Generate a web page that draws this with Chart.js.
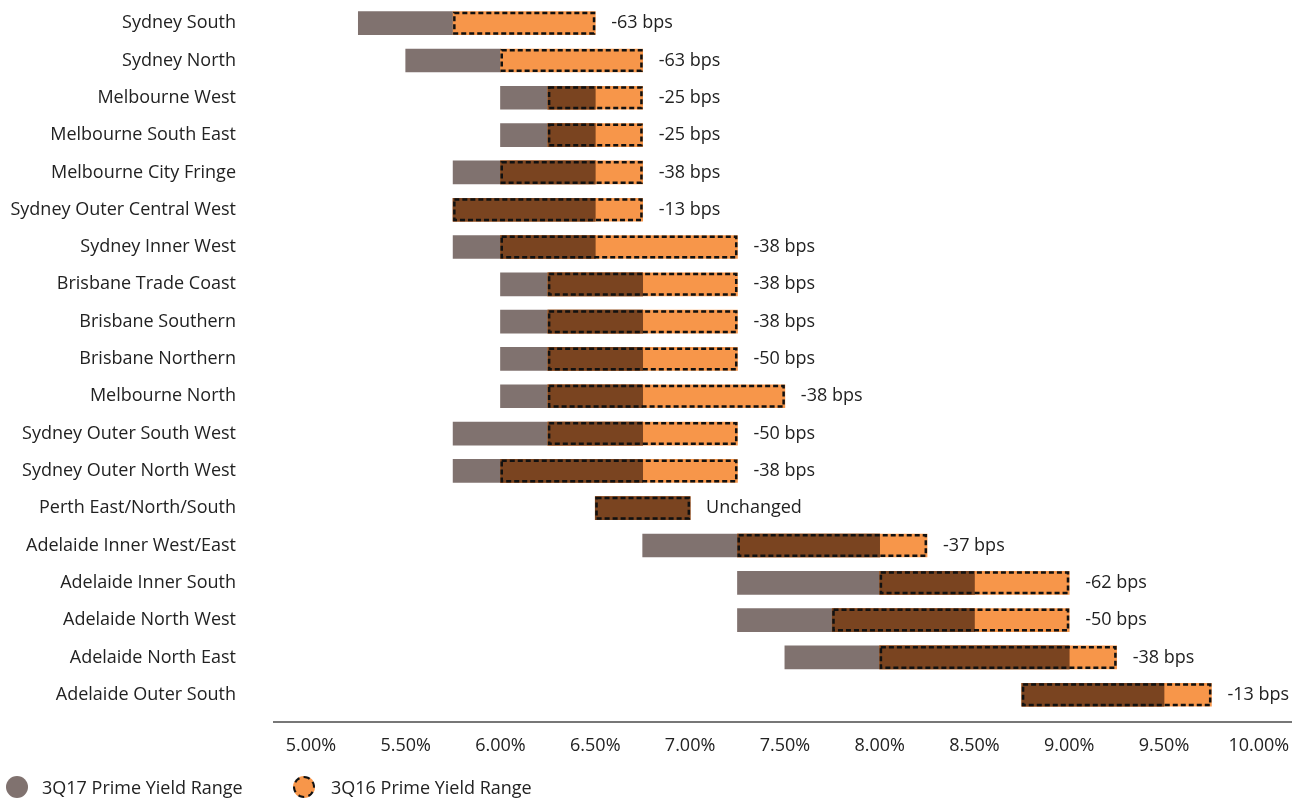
<!DOCTYPE html>
<html>
<head>
<meta charset="utf-8">
<title>Prime Yield Ranges</title>
<script src="https://cdn.jsdelivr.net/npm/chart.js@4.4.1/dist/chart.umd.min.js"></script>
<style>
  body { margin: 0; background: #fff; font-family: "Open Sans", sans-serif; color: #222; }
  #wrap { position: relative; width: 1300px; height: 800px; }
  .key { position: absolute; top: 776px; height: 22px; display: flex; align-items: center; font-size: 18px; white-space: nowrap; }
  .dot { width: 22px; height: 22px; border-radius: 50%; box-sizing: border-box; margin-right: 14px; flex: none; }
  .dot.q17 { background: #80726f; }
  .dot.q16 { background: #f7964a; border: 2.5px dashed #111; margin-right: 16px; }
</style>
</head>
<body>
<div id="wrap">
  <canvas id="yieldChart" width="1300" height="800"></canvas>
  <div class="key" style="left:6px"><span class="dot q17"></span>3Q17 Prime Yield Range</div>
  <div class="key" style="left:293px"><span class="dot q16"></span>3Q16 Prime Yield Range</div>
</div>
<script>
// Markets, top to bottom
const markets = [
  "Sydney South", "Sydney North", "Melbourne West", "Melbourne South East",
  "Melbourne City Fringe", "Sydney Outer Central West", "Sydney Inner West",
  "Brisbane Trade Coast", "Brisbane Southern", "Brisbane Northern",
  "Melbourne North", "Sydney Outer South West", "Sydney Outer North West",
  "Perth East/North/South", "Adelaide Inner West/East", "Adelaide Inner South",
  "Adelaide North West", "Adelaide North East", "Adelaide Outer South"
];

// Prime yield ranges [low, high] in %
const range3Q17 = [
  [5.25, 5.75], [5.5, 6.0], [6.0, 6.5], [6.0, 6.5],
  [5.75, 6.5], [5.75, 6.5], [5.75, 6.5],
  [6.0, 6.75], [6.0, 6.75], [6.0, 6.75],
  [6.0, 6.75], [5.75, 6.75], [5.75, 6.75],
  [6.5, 7.0], [6.75, 8.0], [7.25, 8.5],
  [7.25, 8.5], [7.5, 9.0], [8.75, 9.5]
];
const range3Q16 = [
  [5.75, 6.5], [6.0, 6.75], [6.25, 6.75], [6.25, 6.75],
  [6.0, 6.75], [5.75, 6.75], [6.0, 7.25],
  [6.25, 7.25], [6.25, 7.25], [6.25, 7.25],
  [6.25, 7.5], [6.25, 7.25], [6.0, 7.25],
  [6.5, 7.0], [7.25, 8.25], [8.0, 9.0],
  [7.75, 9.0], [8.0, 9.25], [8.75, 9.75]
];

// Year-on-year change labels
const changeLabels = [
  "-63 bps", "-63 bps", "-25 bps", "-25 bps", "-38 bps", "-13 bps", "-38 bps",
  "-38 bps", "-38 bps", "-50 bps", "-38 bps", "-50 bps", "-38 bps",
  "Unchanged", "-37 bps", "-62 bps", "-50 bps", "-38 bps", "-13 bps"
];

const xTicks = [5.0, 5.5, 6.0, 6.5, 7.0, 7.5, 8.0, 8.5, 9.0, 9.5, 10.0];

// part of the range shared by both years
const overlap = range3Q17.map((r, i) => {
  const lo = Math.max(r[0], range3Q16[i][0]);
  const hi = Math.min(r[1], range3Q16[i][1]);
  return hi > lo ? [lo, hi] : null;
});

const FONT = "'Open Sans', sans-serif";

// dashed outline around the 3Q16 bars
const dashedOutline = {
  id: "dashedOutline",
  afterDatasetsDraw(chart) {
    const ctx = chart.ctx;
    const meta = chart.getDatasetMeta(1);
    ctx.save();
    ctx.strokeStyle = "#111";
    ctx.lineWidth = 2.5;
    ctx.setLineDash([5, 3]);
    meta.data.forEach(bar => {
      const { x, y, base, height } = bar.getProps(["x", "y", "base", "height"], true);
      const left = Math.min(x, base), right = Math.max(x, base);
      ctx.strokeRect(left + 1.25, y - height / 2 + 1.25, right - left - 2.5, height - 2.5);
    });
    ctx.restore();
  }
};

// change text to the right of each row, plus the axis line
const rowLabels = {
  id: "rowLabels",
  afterDraw(chart) {
    const { ctx, chartArea } = chart;
    const xs = chart.scales.x, ys = chart.scales.y;
    ctx.save();
    ctx.font = "18px " + FONT;
    ctx.fillStyle = "#222";
    ctx.textBaseline = "middle";
    changeLabels.forEach((txt, i) => {
      const end = Math.max(range3Q17[i][1], range3Q16[i][1]);
      ctx.fillText(txt, xs.getPixelForValue(end) + 16, ys.getPixelForValue(i));
    });
    ctx.strokeStyle = "#777";
    ctx.lineWidth = 2;
    ctx.beginPath();
    ctx.moveTo(chartArea.left, chartArea.bottom + 8.5);
    ctx.lineTo(chartArea.right, chartArea.bottom + 8.5);
    ctx.stroke();
    ctx.restore();
  }
};

new Chart(document.getElementById("yieldChart"), {
  type: "bar",
  data: {
    labels: markets,
    datasets: [
      { label: "Overlap", data: overlap, backgroundColor: "#7a4420" },
      { label: "3Q16 Prime Yield Range", data: range3Q16, backgroundColor: "#f7964a" },
      { label: "3Q17 Prime Yield Range", data: range3Q17, backgroundColor: "#80726f" }
    ]
  },
  options: {
    indexAxis: "y",
    responsive: false,
    animation: false,
    layout: { padding: { top: 4.5, right: 8, left: 0, bottom: 0 } },
    datasets: { bar: { grouped: false, barThickness: 23, borderWidth: 0 } },
    plugins: {
      legend: { display: false },
      tooltip: { enabled: false }
    },
    scales: {
      x: {
        type: "linear",
        min: 4.8,
        max: 10.175,
        afterBuildTicks: scale => { scale.ticks = xTicks.map(v => ({ value: v })); },
        afterFit: scale => {
          scale.height = 86.6;
          scale.paddingLeft = 0;
          scale.paddingRight = 0;
        },
        grid: { display: false, drawTicks: false },
        border: { display: false },
        ticks: {
          padding: 22,
          color: "#222",
          font: { family: FONT, size: 18 },
          maxRotation: 0,
          callback: v => v.toFixed(2) + "%"
        }
      },
      y: {
        afterFit: scale => {
          scale.width = 273;
          scale.paddingTop = 0;
          scale.paddingBottom = 0;
        },
        grid: { display: false, drawTicks: false },
        border: { display: false },
        ticks: {
          padding: 37,
          color: "#222",
          font: { family: FONT, size: 18 },
          autoSkip: false
        }
      }
    }
  },
  plugins: [dashedOutline, rowLabels]
});
</script>
</body>
</html>
